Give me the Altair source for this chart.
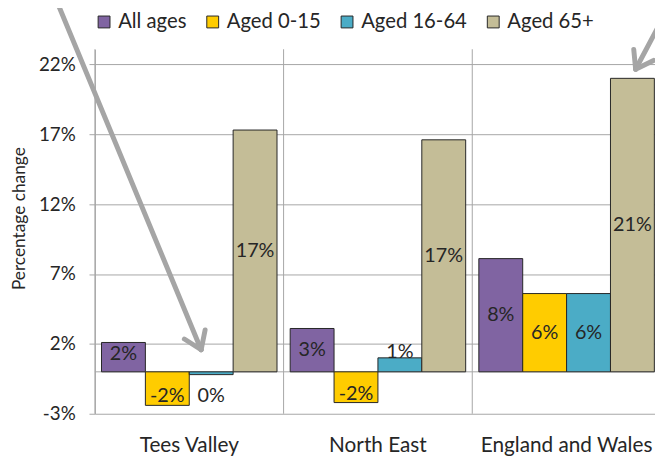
import altair as alt
import pandas as pd

regions = ["Tees Valley", "North East", "England and Wales"]
series = ["All ages", "Aged 0-15", "Aged 16-64", "Aged 65+"]
colors = ["#8064A2", "#FFCC00", "#4BACC6", "#C4BD97"]
tees_valley = [2.1, -2.4, -0.2, 17.3]
north_east = [3.1, -2.2, 1.0, 16.6]
england_wales = [8.1, 5.6, 5.6, 21.0]
y_ticks = [-3, 2, 7, 12, 17, 22]

# annotation arrows (x in group units, y in percent units)
arrow_x = [-0.20, 0.563, 0.563, 0.474, 0.563, 0.584, 3.06, 2.866, 2.866, 2.856, 2.866, 2.961]
arrow_y = [26.45, 1.58, 1.58, 2.35, 1.58, 2.99, 26.6, 21.65, 21.65, 23.06, 21.65, 22.28]
separators = [0, 1, 2, 3]

rows = []
for reg, vals in zip(regions, [tees_valley, north_east, england_wales]):
    for s, v in zip(series, vals):
        if v >= 2.5:
            place, ly = "center", v / 2
        elif v >= 1.5:
            place, ly = "top_in", v
        elif v >= 0:
            place, ly = "above", v
        elif v > -1.5:
            place, ly = "below", v
        else:
            place, ly = "bottom_in", v
        rows.append({"region": reg, "series": s, "value": v,
                     "label": f"{int(round(v)) + 0}%", "place": place, "ly": ly})
df = pd.DataFrame(rows)

arrows = pd.DataFrame({
    "x": arrow_x[0::2], "y": arrow_y[0::2],
    "x2": arrow_x[1::2], "y2": arrow_y[1::2],
})
seps = pd.DataFrame({"x": separators})

GRID = "#a6a6a6"
TXT = "#262626"
YDOM = [-3, 23.08]
XRANGE = [0, 573]
FS = 20.5

x_band = alt.X("region:N", sort=regions, scale=alt.Scale(range=XRANGE, paddingInner=0, paddingOuter=0),
               axis=alt.Axis(title=None, ticks=False, domain=False, grid=False, labelAngle=0,
                             labelFontSize=21, labelPadding=21, labelColor=TXT))
x_off = alt.XOffset("series:N", sort=series, scale=alt.Scale(paddingInner=0, paddingOuter=0.15))
y_enc = alt.Y("value:Q", scale=alt.Scale(domain=YDOM, nice=False, zero=False),
              axis=alt.Axis(values=y_ticks, labelExpr="datum.value + '%'", title="Percentage change",
                            grid=True, gridColor=GRID, domainColor=GRID, tickColor=GRID, tickSize=6,
                            labelPadding=14, labelFontSize=19, labelColor=TXT,
                            titleFontSize=17.5, titleFontWeight="normal", titleColor=TXT,
                            titleX=-76, titleY=171, titleBaseline="middle", titleAlign="center"))

base = alt.Chart(df)

bars = base.mark_bar(stroke=TXT, strokeWidth=1).encode(
    x=x_band, xOffset=x_off, y=y_enc, y2=alt.datum(0),
    color=alt.Color("series:N", sort=series, scale=alt.Scale(domain=series, range=colors),
                    legend=alt.Legend(title=None, orient="none", legendX=-1, legendY=-38,
                                      direction="horizontal", symbolType="square", symbolSize=144,
                                      symbolStrokeColor=TXT, symbolStrokeWidth=1, labelOffset=4,
                                      columnPadding=16, labelFontSize=FS, labelColor=TXT, padding=0)),
)

def label_layer(place, baseline, dy):
    return base.transform_filter(alt.datum.place == place).mark_text(
        baseline=baseline, dy=dy, fontSize=20, color=TXT
    ).encode(x=x_band, xOffset=x_off, y=alt.Y("ly:Q"), text="label:N")

labels = alt.layer(
    label_layer("center", "middle", 0),
    label_layer("top_in", "top", 2),
    label_layer("above", "alphabetic", 0),
    label_layer("below", "top", 12),
    label_layer("bottom_in", "alphabetic", -3),
)

data_group = alt.layer(bars, labels)

zero_line = alt.Chart(pd.DataFrame({"z": [0]})).mark_rule(color=GRID, strokeWidth=1).encode(y="z:Q")

xq = alt.Scale(domain=[0, 3], range=XRANGE)
sep_rules = alt.Chart(seps).mark_rule(color=GRID, strokeWidth=1).encode(
    x=alt.X("x:Q", scale=xq, axis=None))
arrow_rules = alt.Chart(arrows).mark_rule(color="#a5a5a5", strokeWidth=5, strokeCap="round").encode(
    x=alt.X("x:Q", scale=xq, axis=None), x2="x2:Q", y="y:Q", y2="y2:Q")

back_group = alt.layer(zero_line, sep_rules)

chart = alt.layer(
    back_group, data_group, alt.layer(arrow_rules),
).resolve_scale(x="independent").properties(
    width=567, height=369,
    padding={"left": 88, "top": 39, "right": 0, "bottom": 40},
    autosize=alt.AutoSizeParams(type="none"),
    background="white",
).configure(font="Lato").configure_view(stroke=None)

chart.save("out.html", embed_options={"renderer": "svg", "actions": False})
